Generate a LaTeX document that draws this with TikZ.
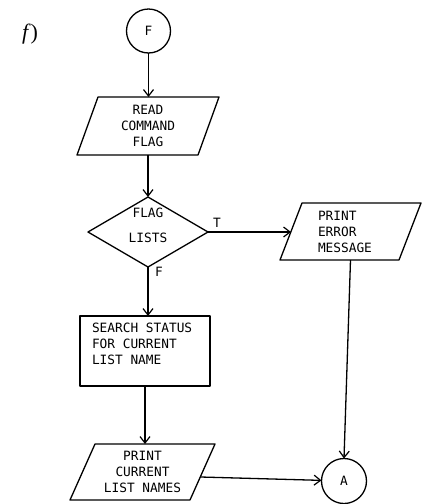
\documentclass[tikz,border=0pt]{standalone}
\usepackage{fontspec}
\setmainfont{Liberation Serif}
\newfontfamily\chartfont{DejaVu Sans Mono}
\usetikzlibrary{arrows.meta,calc}

\tikzset{
  shapeline/.style={line width=1.3pt, line join=round},
  conn/.style={line width=1.3pt, -{Straight Barb[length=6.5pt,width=10pt,line width=1.2pt]}},
  chart/.style={font=\chartfont\fontsize{12.8}{16}\selectfont, inner sep=0pt, outer sep=0pt},
  ioframe/.style={chart, rectangle, align=center},
  connector/.style={chart, circle, draw, shapeline, minimum size=#1},
  tag/.style={chart}
}
% parallelogram drawn over an io node: #1 node name, #2 horizontal slant
\newcommand\ioshape[2]{%
  \draw[shapeline] ([xshift=#2]#1.north west) -- (#1.north east)
    -- ([xshift=-#2]#1.south east) -- (#1.south west) -- cycle;}

\begin{document}
\begin{tikzpicture}[x=1pt, y=-1pt]
\useasboundingbox (0,0) rectangle (422,504);

% part label
\node[inner sep=0pt] (partlabel) at (30,34) {\fontsize{22}{26}\selectfont\textit{f})};

% entry connector
\node[connector=44pt] (F) at (148.5,31) {F};

% input: command flag
\node[ioframe, minimum width=142pt, minimum height=58pt] (read) at (148,126)
  {READ\\COMMAND\\FLAG};
\ioshape{read}{21}

% decision
\node[chart, minimum width=120pt, minimum height=70pt] (flag) at (148,232) {};
\draw[shapeline] (flag.north) -- (flag.east) -- (flag.south) -- (flag.west) -- cycle;
\node[chart, align=center, font=\chartfont\fontsize{12.8}{25}\selectfont] (flagtext) at (148,225.5)
  {FLAG\\LISTS};

% error output
\node[ioframe, minimum width=141pt, minimum height=57pt, text width=65pt, align=left] (err) at (350.5,231.5)
  {PRINT\\ERROR\\MESSAGE};
\ioshape{err}{22}
\coordinate (errin) at (291,232);

% search process
\node[chart, draw, shapeline, minimum width=130pt, minimum height=70pt] (search) at (145,351) {};
\node[chart, align=left, anchor=west] (searchtext) at (92,344)
  {SEARCH STATUS\\FOR CURRENT\\LIST NAME};

% output: current list names
\node[ioframe, minimum width=145pt, minimum height=56pt] (pc) at (142.5,472)
  {PRINT\\CURRENT\\LIST NAMES};
\ioshape{pc}{25}
\coordinate (pcout) at (200.5,477);

% exit connector
\node[connector=45pt] (A) at (344,481) {A};

% branch labels
\node[tag] (tlabel) at (217,223) {T};
\node[tag] (flabel) at (159,272) {F};

% flow lines
\draw[conn] (F.south) -- (F.south |- read.north);
\draw[conn] (read.south) -- (read.south |- flag.north);
\draw[conn] (flag.east) -- (errin);
\draw[conn] (flag.south) -- (flag.south |- search.north);
\draw[conn] (search.south) -- (search.south |- pc.north);
\draw[conn] (pcout) -- (A);
\draw[conn] (err.south) -- (A.north);
\end{tikzpicture}
\end{document}
